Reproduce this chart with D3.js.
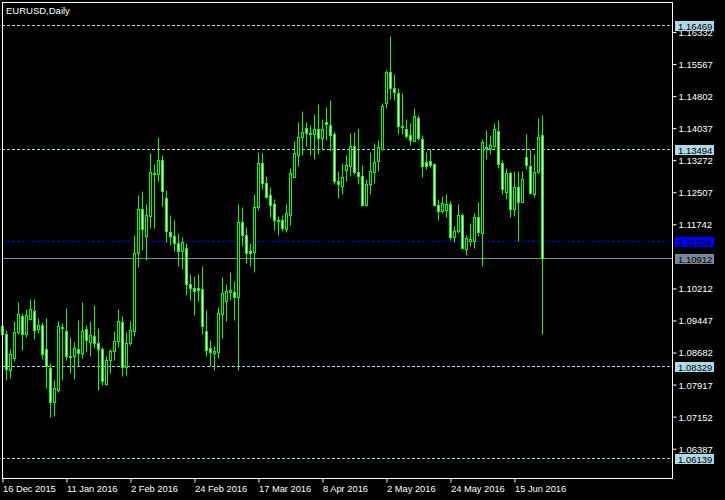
<!DOCTYPE html>
<html><head><meta charset="utf-8">
<script src="https://cdn.jsdelivr.net/npm/d3@7"></script>
<style>
html,body{margin:0;padding:0;background:#000;overflow:hidden}
text{font-family:"Liberation Sans",Arial,sans-serif;font-size:9px}
</style>
</head><body><svg id="c" width="725" height="500"></svg>
<script>
const title = "EURUSD,Daily";
const openP = [1.0910,1.0910,1.0822,1.0852,1.0913,1.0953,1.0909,1.0945,1.0964,1.0921,
1.0931,1.0872,1.0828,1.0746,1.0776,1.0926,1.0917,1.0857,1.0857,1.0874,
1.0863,1.0921,1.0889,1.0903,1.0888,1.0874,1.0789,1.0846,1.0868,1.0892,
1.0938,1.0830,1.0888,1.0915,1.1103,1.1206,1.1142,1.1190,1.1292,1.1291,
1.1323,1.1234,1.1153,1.1143,1.1127,1.1106,1.1113,1.1029,1.1019,1.1018,
1.1017,1.0915,1.0876,1.0863,1.0867,1.0957,1.0987,1.1008,1.1009,1.0997,
1.1177,1.1146,1.1106,1.1104,1.1213,1.1316,1.1270,1.1240,1.1218,1.1178,
1.1180,1.1160,1.1192,1.1284,1.1336,1.1380,1.1401,1.1385,1.1385,1.1399,
1.1377,1.1416,1.1407,1.1385,1.1275,1.1262,1.1300,1.1310,1.1357,1.1296,
1.1286,1.1216,1.1266,1.1295,1.1322,1.1351,1.1461,1.1535,1.1497,1.1485,
1.1404,1.1397,1.1383,1.1369,1.1425,1.1375,1.1320,1.1322,1.1314,1.1216,
1.1202,1.1204,1.1220,1.1141,1.1154,1.1193,1.1112,1.1131,1.1130,1.1189,
1.1150,1.1356,1.1352,1.1357,1.1394,1.1316,1.1247,1.1292,1.1206,1.1260,
1.1224,1.1332,1.1310,1.1242,1.1295,1.1384];
const highP = [1.0934,1.0919,1.0874,1.0941,1.0986,1.0958,1.0969,1.0993,1.0993,1.0946,
1.0938,1.0947,1.0840,1.0800,1.0941,1.0934,1.0972,1.0901,1.0889,1.0943,
1.0986,1.0930,1.0941,1.0977,1.0922,1.0879,1.0857,1.0874,1.0917,1.0969,
1.0951,1.0914,1.0941,1.1146,1.1240,1.1249,1.1218,1.1340,1.1314,1.1378,
1.1335,1.1252,1.1194,1.1180,1.1151,1.1141,1.1127,1.1053,1.1048,1.1051,
1.1070,1.0965,1.0895,1.0881,1.0974,1.1044,1.1027,1.1058,1.1036,1.1220,
1.1211,1.1164,1.1127,1.1244,1.1344,1.1340,1.1287,1.1260,1.1230,1.1190,
1.1194,1.1220,1.1306,1.1369,1.1415,1.1440,1.1415,1.1407,1.1433,1.1457,
1.1421,1.1451,1.1467,1.1393,1.1298,1.1318,1.1336,1.1388,1.1390,1.1401,
1.1311,1.1279,1.1343,1.1364,1.1371,1.1461,1.1538,1.1619,1.1530,1.1495,
1.1483,1.1421,1.1412,1.1449,1.1431,1.1383,1.1344,1.1351,1.1318,1.1232,
1.1238,1.1244,1.1226,1.1166,1.1218,1.1197,1.1146,1.1174,1.1197,1.1223,
1.1375,1.1395,1.1383,1.1413,1.1419,1.1323,1.1304,1.1299,1.1299,1.1298,
1.1299,1.1385,1.1351,1.1339,1.1424,1.1431];
const lowP = [1.0905,1.0800,1.0803,1.0844,1.0910,1.0870,1.0902,1.0943,1.0898,1.0912,
1.0850,1.0779,1.0711,1.0712,1.0770,1.0800,1.0846,1.0816,1.0802,1.0833,
1.0852,1.0867,1.0857,1.0876,1.0776,1.0787,1.0787,1.0816,1.0848,1.0879,
1.0808,1.0812,1.0882,1.0903,1.1068,1.1109,1.1085,1.1161,1.1161,1.1274,
1.1214,1.1128,1.1122,1.1106,1.1071,1.1065,1.1001,1.0989,1.0955,1.0987,
1.0910,1.0857,1.0833,1.0824,1.0852,1.0900,1.0939,1.0991,1.0943,1.0822,
1.1118,1.1079,1.1071,1.1056,1.1204,1.1256,1.1234,1.1187,1.1158,1.1145,
1.1154,1.1152,1.1168,1.1283,1.1310,1.1336,1.1357,1.1336,1.1327,1.1339,
1.1349,1.1372,1.1345,1.1268,1.1233,1.1244,1.1273,1.1287,1.1290,1.1268,
1.1214,1.1214,1.1242,1.1270,1.1298,1.1348,1.1448,1.1469,1.1467,1.1385,
1.1385,1.1376,1.1360,1.1369,1.1373,1.1283,1.1302,1.1308,1.1214,1.1181,
1.1197,1.1189,1.1133,1.1128,1.1149,1.1111,1.1097,1.1120,1.1114,1.1142,
1.1071,1.1326,1.1338,1.1353,1.1304,1.1244,1.1230,1.1189,1.1190,1.1130,
1.1224,1.1302,1.1242,1.1236,1.1294,1.0910];
const closeP = [1.0929,1.0825,1.0862,1.0914,1.0957,1.0909,1.0955,1.0969,1.0918,1.0931,
1.0861,1.0833,1.0746,1.0780,1.0929,1.0922,1.0857,1.0855,1.0876,1.0864,
1.0915,1.0895,1.0907,1.0887,1.0873,1.0797,1.0847,1.0869,1.0892,1.0940,
1.0830,1.0888,1.0918,1.1103,1.1208,1.1160,1.1193,1.1296,1.1290,1.1323,
1.1250,1.1155,1.1142,1.1127,1.1106,1.1129,1.1027,1.1018,1.1011,1.1013,
1.0927,1.0870,1.0865,1.0869,1.0958,1.1007,1.1012,1.1015,1.0997,1.1177,
1.1146,1.1103,1.1103,1.1213,1.1318,1.1270,1.1236,1.1216,1.1181,1.1182,
1.1162,1.1197,1.1292,1.1340,1.1380,1.1392,1.1389,1.1388,1.1399,1.1377,
1.1397,1.1411,1.1384,1.1274,1.1268,1.1284,1.1313,1.1357,1.1295,1.1286,
1.1216,1.1268,1.1298,1.1320,1.1354,1.1452,1.1535,1.1495,1.1486,1.1405,
1.1406,1.1381,1.1372,1.1428,1.1377,1.1310,1.1310,1.1311,1.1216,1.1202,
1.1222,1.1220,1.1141,1.1155,1.1193,1.1113,1.1138,1.1136,1.1189,1.1152,
1.1367,1.1352,1.1359,1.1397,1.1315,1.1254,1.1292,1.1208,1.1260,1.1224,
1.1278,1.1312,1.1246,1.1296,1.1380,1.10912];
const xTickIndex = [0,16,32,48,64,80,96,112,128];
const xTickLabels = ["16 Dec 2015","11 Jan 2016","2 Feb 2016","24 Feb 2016","17 Mar 2016","8 Apr 2016","2 May 2016","24 May 2016","15 Jun 2016"];
const yTicks = [1.16332,1.15567,1.14802,1.14037,1.13272,1.12507,1.11742,1.10212,1.09447,1.08682,1.07917,1.07152,1.06387];
const levelValues = [1.16469,1.13494,1.08329,1.06139];
const askLevel = 1.11304;
const bidLevel = 1.10912;

(function () {
const W = 725, H = 500;
const pL = 2, pR = 672, pT = 2, pB = 478;
const n = openP.length;
const FONT = '"Liberation Sans",Arial,sans-serif';
const svg = d3.select('#c');
svg.append('rect').attr('width', W).attr('height', H).attr('fill', '#000');

const x = d3.scaleLinear().domain([0, n - 1]).range([2.5, 2.5 + 4 * (n - 1)]);
const y = d3.scaleLinear().domain([1.05652, 1.17012]).range([pB, pT]);
const sy = v => Math.round(y(v)) + 0.5;

// level lines (behind candles)
const gl = svg.append('g');
gl.selectAll('line.lv').data(levelValues).enter().append('line')
  .attr('x1', pL).attr('x2', pR).attr('y1', d => sy(d)).attr('y2', d => sy(d))
  .attr('stroke', '#add8e6').attr('stroke-dasharray', '3,2');
gl.append('line').attr('x1', pL).attr('x2', pR).attr('y1', sy(askLevel)).attr('y2', sy(askLevel))
  .attr('stroke', '#0000ff').attr('stroke-dasharray', '3,2');
gl.append('line').attr('x1', pL).attr('x2', pR).attr('y1', sy(bidLevel)).attr('y2', sy(bidLevel))
  .attr('stroke', '#778899');

// candles
const idx = d3.range(n);
const gc = svg.append('g');
gc.selectAll('line.w').data(idx).enter().append('line')
  .attr('x1', i => x(i)).attr('x2', i => x(i))
  .attr('y1', i => sy(highP[i])).attr('y2', i => sy(lowP[i]))
  .attr('stroke', '#00ff00');
gc.selectAll('rect.b').data(idx).enter().append('rect')
  .attr('x', i => x(i) - 1)
  .attr('width', 2)
  .attr('y', i => Math.min(sy(openP[i]), sy(closeP[i])))
  .attr('height', i => Math.abs(sy(openP[i]) - sy(closeP[i])))
  .attr('fill', i => closeP[i] < openP[i] ? '#ffffff' : '#000000')
  .attr('stroke', '#00ff00');

// frame
svg.append('rect').attr('x', pL + 0.5).attr('y', pT + 0.5)
  .attr('width', pR - pL).attr('height', pB - pT)
  .attr('fill', 'none').attr('stroke', '#fff');

// title
svg.append('text').attr('x', 6).attr('y', 14).attr('fill', '#fff')
  .style('font-size', '9.5px').text(title);

// right axis (MT4 draws its tick marks ~1.5px below the price)
const ay = svg.append('g').attr('transform', `translate(${pR + 0.5},1.5)`)
  .call(d3.axisRight(y).tickValues(yTicks).tickSize(4).tickPadding(2).tickFormat(d3.format('.5f')));
ay.select('.domain').remove();
ay.selectAll('line').attr('stroke', '#fff');
ay.selectAll('text').attr('fill', '#fff').attr('dy', '0.36em')
  .style('font-family', FONT).style('font-size', '9.5px');

// bottom axis
const ax = svg.append('g').attr('transform', `translate(0,${pB + 0.5})`)
  .call(d3.axisBottom(x).tickValues(xTickIndex).tickSize(4).tickFormat((d, i) => xTickLabels[i]));
ax.select('.domain').remove();
ax.selectAll('line').attr('stroke', '#fff');
ax.selectAll('text').attr('fill', '#fff').attr('text-anchor', 'start')
  .attr('y', 13.5).attr('dy', 0).attr('x', 0)
  .style('font-family', FONT).style('font-size', '9.3px');

// price labels
function priceLabel(v, bg, fg) {
  const cy = Math.round(y(v));
  svg.append('rect').attr('x', 675).attr('y', cy - 4).attr('width', 39).attr('height', 10).attr('fill', bg);
  svg.append('text').attr('x', 678).attr('y', cy + 4.5).attr('fill', fg)
    .style('font-size', '9.5px').text(d3.format('.5f')(v));
}
levelValues.forEach(v => priceLabel(v, '#add8e6', '#000'));
priceLabel(askLevel, '#0000ff', '#000');
priceLabel(bidLevel, '#778899', '#000');
})();
</script>
</body></html>
